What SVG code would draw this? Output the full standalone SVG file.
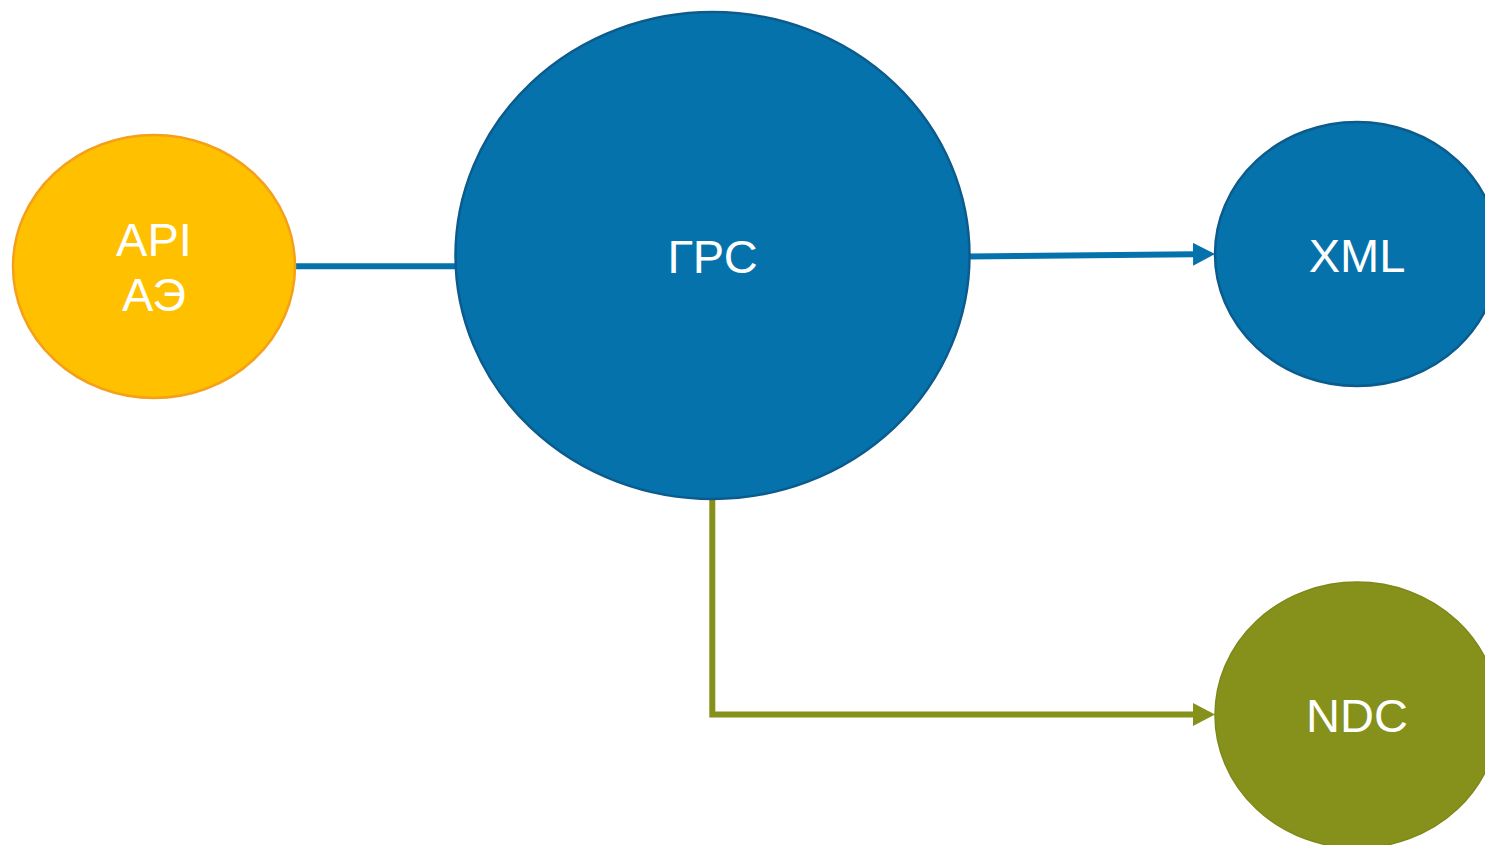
<svg xmlns="http://www.w3.org/2000/svg" width="1485" height="845" viewBox="0 0 1485 845">
  <style>
    .lbl { font-family: "Liberation Sans", Arial, sans-serif; font-size: 47px; fill: #FFFFFF; text-anchor: middle; }
    .blue { fill: #0672AC; stroke: #0B5B8C; stroke-width: 2.5; }
    .yellow { fill: #FFC000; stroke: #F5A01A; stroke-width: 2.5; }
    .olive { fill: #86911B; stroke: #7E8818; stroke-width: 1.5; }
    .conn { fill: none; stroke-width: 6; }
  </style>
  <defs>
    <marker id="arrBlue" markerUnits="userSpaceOnUse" markerWidth="23" markerHeight="24" refX="1" refY="11.5" orient="auto">
      <path d="M0,0 L22,11.5 L0,23 z" fill="#0672AC"/>
    </marker>
    <marker id="arrOlive" markerUnits="userSpaceOnUse" markerWidth="23" markerHeight="24" refX="1" refY="11.5" orient="auto">
      <path d="M0,0 L22,11.5 L0,23 z" fill="#86911B"/>
    </marker>
  </defs>
  <rect width="1485" height="845" fill="#FFFFFF"/>
  <g id="connectors">
    <line class="conn" x1="294" y1="266.3" x2="457" y2="266.3" stroke="#0672AC"/>
    <line class="conn" x1="968" y1="256.5" x2="1194" y2="254.3" stroke="#0672AC" marker-end="url(#arrBlue)"/>
    <polyline class="conn" points="712.3,498 712.3,714.5 1194,714.5" stroke="#86911B" marker-end="url(#arrOlive)"/>
  </g>
  <g id="node-api">
    <ellipse class="yellow" cx="154" cy="266.5" rx="141" ry="131.5"/>
    <text class="lbl" x="154" y="256">API</text>
    <text class="lbl" x="154" y="311">АЭ</text>
  </g>
  <g id="node-grs">
    <ellipse class="blue" cx="712.5" cy="255.5" rx="257" ry="243.5"/>
    <text class="lbl" x="712.5" y="273">ГРС</text>
  </g>
  <g id="node-xml">
    <ellipse class="blue" cx="1357" cy="254" rx="142" ry="132"/>
    <text class="lbl" x="1357" y="271.5">XML</text>
  </g>
  <g id="node-ndc">
    <ellipse class="olive" cx="1357" cy="715" rx="142" ry="133"/>
    <text class="lbl" x="1357" y="732">NDC</text>
  </g>
</svg>
